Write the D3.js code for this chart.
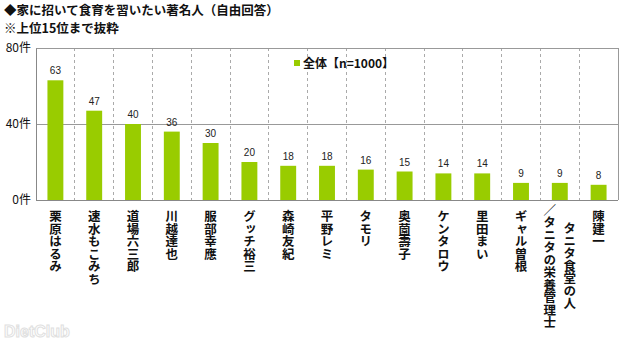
<!DOCTYPE html>
<html>
<head>
<meta charset="utf-8">
<script src="https://cdn.jsdelivr.net/npm/d3@7"></script>
<style>
  html, body { margin: 0; padding: 0; background: #fff; }
  svg { display: block; font-family: "Noto Sans CJK JP", "Noto Sans", sans-serif; }
</style>
</head>
<body>
<svg id="chart" width="640" height="341"></svg>
<script>
// Respondents' answers (count of mentions)
const categories = [
  ["栗原はるみ"], ["速水もこみち"], ["道場六三郎"], ["川越達也"], ["服部幸應"],
  ["グッチ裕三"], ["森崎友紀"], ["平野レミ"], ["タモリ"], ["奥薗壽子"],
  ["ケンタロウ"], ["里田まい"], ["ギャル曽根"], ["タニタ食堂の人", "／タニタの栄養管理士"], ["陳建一"]
];
const values = [63, 47, 40, 36, 30, 20, 18, 18, 16, 15, 14, 14, 9, 9, 8];
const yTicks = [0, 40, 80];
const seriesName = "全体【n=1000】";
const titleLines = ["◆家に招いて食育を習いたい著名人（自由回答）", "※上位15位まで抜粋"];

const svg = d3.select("#chart");
const plot = { left: 36, right: 618, top: 48, bottom: 200 };
const barColor = "#99cc00";

const x = d3.scaleBand()
  .domain(d3.range(categories.length))
  .range([plot.left, plot.right])
  .paddingInner(0.59)
  .paddingOuter(0.295);

const step = x.step();

const y = d3.scaleLinear().domain([0, 80]).range([plot.bottom, plot.top]);

// Title
svg.append("g").selectAll("text").data(titleLines).join("text")
  .attr("x", 4).attr("y", (d, i) => 15 + i * 18)
  .attr("font-size", 12.5).attr("font-weight", "bold").attr("fill", "#111")
  .text(d => d);

// Vertical dashed separators between categories
const seps = d3.range(1, categories.length).map(i => plot.left + i * step);
svg.append("g").selectAll("line").data(seps).join("line")
  .attr("x1", d => d).attr("x2", d => d)
  .attr("y1", plot.top).attr("y2", plot.bottom + 3)
  .attr("stroke", "#aaa").attr("stroke-width", 1)
  .attr("stroke-dasharray", "3,3")
  .attr("shape-rendering", "crispEdges");

// Horizontal gridlines
svg.append("g").selectAll("line").data(yTicks.filter(t => t > 0)).join("line")
  .attr("x1", plot.left).attr("x2", plot.right)
  .attr("y1", d => y(d)).attr("y2", d => y(d))
  .attr("stroke", "#999").attr("shape-rendering", "crispEdges");

// Right frame
svg.append("line")
  .attr("x1", plot.right).attr("x2", plot.right)
  .attr("y1", plot.top).attr("y2", plot.bottom)
  .attr("stroke", "#999").attr("shape-rendering", "crispEdges");

// Bars
svg.append("g").selectAll("rect").data(values).join("rect")
  .attr("x", (d, i) => x(i))
  .attr("width", x.bandwidth())
  .attr("y", d => y(d))
  .attr("height", d => y(0) - y(d))
  .attr("fill", barColor);

// Value labels
svg.append("g").selectAll("text").data(values).join("text")
  .attr("x", (d, i) => x(i) + x.bandwidth() / 2)
  .attr("y", d => y(d) - 6)
  .attr("text-anchor", "middle")
  .attr("font-size", 10).attr("fill", "#222")
  .attr("font-family", "Arial, 'Liberation Sans', sans-serif")
  .text(d => d);

// Y axis
const yAxis = svg.append("g")
  .attr("transform", `translate(${plot.left},0)`)
  .call(d3.axisLeft(y).tickValues(yTicks).tickSize(0).tickPadding(6).tickFormat(d => d + "件"));
yAxis.select(".domain").attr("stroke", "#888");
yAxis.selectAll("text")
  .attr("font-size", 12).attr("fill", "#111")
  .attr("font-family", "'Noto Sans CJK JP', sans-serif")
  .attr("x", -5);

// X baseline
svg.append("line")
  .attr("x1", plot.left).attr("x2", plot.right)
  .attr("y1", plot.bottom).attr("y2", plot.bottom)
  .attr("stroke", "#888").attr("shape-rendering", "crispEdges");

// Category labels, vertical text
const catG = svg.append("g").selectAll("g").data(categories).join("g")
  .attr("transform", (d, i) => `translate(${x(i) + x.bandwidth() / 2},0)`);

catG.each(function (lines) {
  const g = d3.select(this);
  const n = lines.length;
  lines.forEach((line, j) => {
    const dx = (n - 1) * 10 - j * 20;
    g.append("text")
      .attr("x", dx)
      .attr("y", n > 1 ? 266 : 210)
      .attr("text-anchor", n > 1 ? "middle" : "start")
      .style("writing-mode", "vertical-rl")
      .attr("font-size", 12.5).attr("font-weight", "bold").attr("fill", "#111")
      .text(line);
  });
});

// Legend
const legend = svg.append("g").attr("transform", "translate(294,63)");
legend.append("rect").attr("x", 0).attr("y", -3).attr("width", 6).attr("height", 6).attr("fill", barColor);
legend.append("text").attr("x", 9).attr("y", 4.5)
  .attr("font-size", 12).attr("font-weight", "bold").attr("fill", "#111")
  .text(seriesName);

// Faint site mark
svg.append("text")
  .attr("x", 4).attr("y", 337)
  .attr("font-size", 16).attr("font-weight", "bold")
  .attr("font-family", "Arial, 'Liberation Sans', sans-serif")
  .attr("fill", "none").attr("stroke", "#e0e0e0").attr("stroke-width", 1)
  .text("DietClub");
</script>
</body>
</html>
